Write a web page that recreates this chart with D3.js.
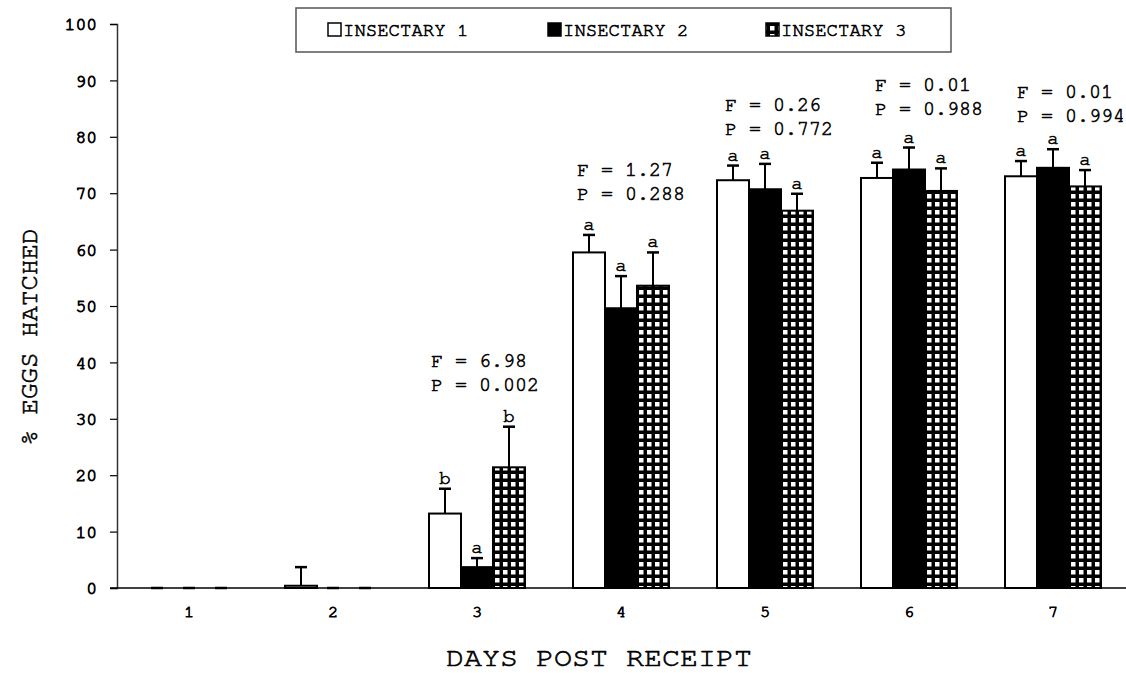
<!DOCTYPE html>
<html><head><meta charset="utf-8">
<script src="https://cdn.jsdelivr.net/npm/d3@7"></script>
<style>body{margin:0;background:#fff}svg{display:block}text{font-family:"FreeMono","Nimbus Mono PS","Nimbus Mono L","Courier","Liberation Mono",monospace;fill:#000;stroke:#000;stroke-width:0.6px}</style>
</head><body><svg id="c" width="1126" height="673"></svg>
<script>
const days = ["1","2","3","4","5","6","7"];
const series = ["INSECTARY 1","INSECTARY 2","INSECTARY 3"];
const ins1 = [0, 0.4, 13.2, 59.5, 72.3, 72.7, 73.0];
const ins1Err = [0, 3.3, 4.4, 3.1, 2.6, 2.7, 2.7];
const ins2 = [0, 0, 3.7, 49.6, 70.7, 74.2, 74.5];
const ins2Err = [0, 0, 1.6, 5.7, 4.5, 3.9, 3.3];
const ins3 = [0, 0, 21.4, 53.6, 66.9, 70.4, 71.2];
const ins3Err = [0, 0, 7.2, 5.9, 3.0, 4.0, 2.9];
const ins1Letters = ["", "", "b", "a", "a", "a", "a"];
const ins2Letters = ["", "", "a", "a", "a", "a", "a"];
const ins3Letters = ["", "", "b", "a", "a", "a", "a"];
const statF = ["", "", "F = 6.98", "F = 1.27", "F = 0.26", "F = 0.01", "F = 0.01"];
const statP = ["", "", "P = 0.002", "P = 0.288", "P = 0.772", "P = 0.988", "P = 0.994"];
const statLevel = [null, null, 39.2, 73.0, 84.5, 88.2, 86.9]; // value level of the F line baseline
const yTicks = [0,10,20,30,40,50,60,70,80,90,100];

// layout-only constants
const statDx = [0, 0, 2, 4, 8, 14, 12];

const svg = d3.select("#c");
const x0 = d3.scaleBand().domain(days).range([117, 1125]).padding(0);
const x1 = d3.scaleBand().domain(series).range([24, 120]).padding(0);
const y = d3.scaleLinear().domain([0, 100]).range([588, 24]);

const defs = svg.append("defs");
const pat = defs.append("pattern").attr("id","chk").attr("patternUnits","userSpaceOnUse")
  .attr("width",8).attr("height",8);
pat.append("rect").attr("width",8).attr("height",8).attr("fill","#000");
pat.append("rect").attr("x",2).attr("y",2).attr("width",4.5).attr("height",4.5).attr("fill","#fff");
const fills = ["#fff", "#000", "url(#chk)"];

const vals = [ins1, ins2, ins3];
const errs = [ins1Err, ins2Err, ins3Err];
const lets = [ins1Letters, ins2Letters, ins3Letters];

// axes
const yAxis = d3.axisLeft(y).tickValues(yTicks).tickSize(7).tickPadding(13);
const gy = svg.append("g").attr("transform","translate(117,0)").call(yAxis);
gy.select(".domain").attr("stroke","#333").attr("stroke-width",1.5);
gy.selectAll(".tick line").attr("stroke","#000").attr("stroke-width",1.2);
gy.selectAll(".tick text").style("font-size","18px").style("stroke-width","0.9px");

svg.append("line").attr("x1",110).attr("x2",1126).attr("y1",y(0)).attr("y2",y(0))
  .attr("stroke","#000").attr("stroke-width",1.5);

const xAxis = d3.axisBottom(x0).tickSize(0).tickPadding(17);
const gx = svg.append("g").attr("transform",`translate(0,${y(0)})`).call(xAxis);
gx.select(".domain").remove();
gx.selectAll(".tick text").style("font-size","17px").style("stroke-width","0.8px");

// bars
days.forEach((d, i) => {
  const g = svg.append("g").attr("transform", `translate(${x0(d)},0)`);
  series.forEach((s, k) => {
    const v = vals[k][i], e = errs[k][i];
    const bx = x1(s), bw = x1.bandwidth(), cx = bx + bw/2;
    if (v > 0) {
      g.append("rect").attr("x", bx).attr("y", y(v)).attr("width", bw)
        .attr("height", y(0) - y(v)).attr("fill", fills[k])
        .attr("stroke","#000").attr("stroke-width",2);
    }
    const top = y(v + e);
    g.append("line").attr("x1",cx).attr("x2",cx).attr("y1",y(v)).attr("y2",top)
      .attr("stroke","#000").attr("stroke-width",2);
    g.append("line").attr("x1",cx-6).attr("x2",cx+6).attr("y1",top).attr("y2",top)
      .attr("stroke","#000").attr("stroke-width",2.5);
    if (lets[k][i]) {
      g.append("text").attr("x",cx).attr("y",top-5).attr("text-anchor","middle")
        .style("font-size","19px").text(lets[k][i]);
    }
  });
  if (statF[i]) {
    const sx = x1(series[0]) + statDx[i];
    g.append("text").attr("x",sx).attr("y",y(statLevel[i]))
      .style("font-size","20px").text(statF[i]);
    g.append("text").attr("x",sx).attr("y",y(statLevel[i])+24)
      .style("font-size","20px").text(statP[i]);
  }
});

// axis titles
svg.append("text").attr("x",599).attr("y",666).attr("text-anchor","middle")
  .style("font-size","26px").attr("textLength",306).attr("lengthAdjust","spacingAndGlyphs")
  .text("DAYS POST RECEIPT");
svg.append("text").attr("transform","translate(37,337) rotate(-90)").attr("text-anchor","middle")
  .style("font-size","25px").attr("textLength",217).attr("lengthAdjust","spacingAndGlyphs")
  .text("% EGGS HATCHED");

// legend
const lg = svg.append("g");
lg.append("rect").attr("x",296).attr("y",8).attr("width",655).attr("height",44)
  .attr("fill","#fff").attr("stroke","#555").attr("stroke-width",1.5);
const legX = [328, 548, 766];
series.forEach((s, k) => {
  lg.append("rect").attr("x",legX[k]).attr("y",23).attr("width",13).attr("height",13)
    .attr("fill", k===2 ? "url(#chk)" : fills[k]).attr("stroke","#000").attr("stroke-width",1.5);
  lg.append("text").attr("x",legX[k]+15).attr("y",36).style("font-size","19px").text(s);
});
</script></body></html>
